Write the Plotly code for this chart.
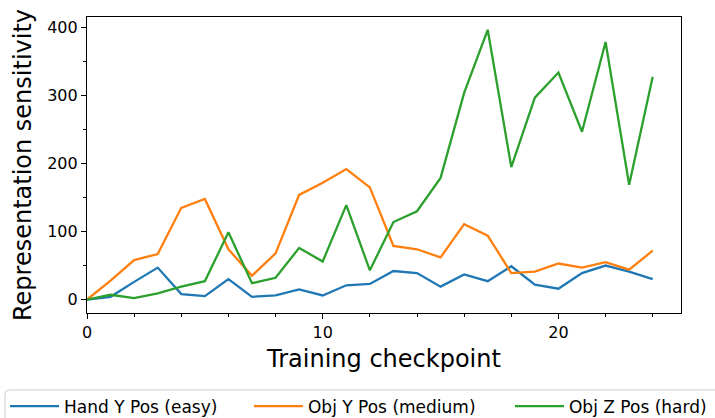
import plotly.graph_objects as go

checkpoints = list(range(25))
hand_y_easy = [0, 4, 26, 47, 8, 5, 30, 4, 6, 15, 6, 21, 23, 42, 39, 19, 37, 27, 49, 22, 16, 39, 50, 41, 30]
obj_y_medium = [0, 28, 58, 67, 135, 148, 74, 35, 68, 154, 172, 192, 165, 79, 74, 62, 111, 94, 39, 41, 53, 47, 55, 44, 72]
obj_z_hard = [0, 7, 2, 9, 19, 27, 99, 24, 32, 76, 56, 139, 43, 114, 130, 179, 304, 397, 195, 297, 334, 247, 379, 169, 328]

series = [
    ("Hand Y Pos (easy)", hand_y_easy, "#1f77b4", "legend"),
    ("Obj Y Pos (medium)", obj_y_medium, "#ff7f0e", "legend2"),
    ("Obj Z Pos (hard)", obj_z_hard, "#2ca02c", "legend3"),
]

fig = go.Figure()
for name, vals, color, leg in series:
    fig.add_trace(go.Scatter(x=checkpoints, y=vals, mode="lines", name=name,
                             line=dict(color=color, width=2.3), legend=leg, showlegend=True))

font_family = "DejaVu Sans"
axis_common = dict(
    showline=True, linecolor="black", linewidth=1.2, mirror=True,
    ticks="outside", ticklen=5, tickwidth=1.2, tickcolor="black",
    showgrid=False, zeroline=False, automargin=False,
    tickfont=dict(family=font_family, size=16, color="black"),
)

fig.update_xaxes(
    range=[0, 25.2], dtick=10, tick0=0,
    minor=dict(dtick=2, ticklen=3, ticks="outside", tickcolor="black"),
    title=dict(text="Training checkpoint", font=dict(family=font_family, size=24, color="black"), standoff=8),
    **axis_common,
)
fig.update_yaxes(
    range=[-19.8, 415.8], dtick=100, tick0=0,
    minor=dict(dtick=50, ticklen=3, ticks="outside", tickcolor="black"),
    title=dict(text="Representation sensitivity", font=dict(family=font_family, size=24, color="black"), standoff=8),
    **axis_common,
)

# legend entries sit in one shared frame below the axes
legend_style = dict(
    orientation="h", xanchor="left", y=-0.255, yanchor="top",
    font=dict(family=font_family, size=17, color="black"),
    borderwidth=0, bgcolor="rgba(0,0,0,0)", itemwidth=49,
)

x0, x1 = -0.138, 1.085
yt, yb = -0.2601, -0.40
rx, ry = 0.0067, 0.0135
frame_path = (
    f"M{x0},{yb} L{x0},{yt - ry} Q{x0},{yt} {x0 + rx},{yt} "
    f"L{x1 - rx},{yt} Q{x1},{yt} {x1},{yt - ry} L{x1},{yb} Z"
)

fig.update_layout(
    width=715, height=418,
    showlegend=True,
    margin=dict(l=87, r=34, t=17, b=105, autoexpand=False),
    plot_bgcolor="white", paper_bgcolor="white",
    font=dict(family=font_family, color="black"),
    legend=dict(x=-0.138, **legend_style),
    legend2=dict(x=0.2727, **legend_style),
    legend3=dict(x=0.7121, **legend_style),
    shapes=[dict(type="path", xref="paper", yref="paper", path=frame_path,
                 line=dict(color="#cccccc", width=1), fillcolor="rgba(255,255,255,0.8)",
                 layer="below")],
)

fig.write_html("out.html")
